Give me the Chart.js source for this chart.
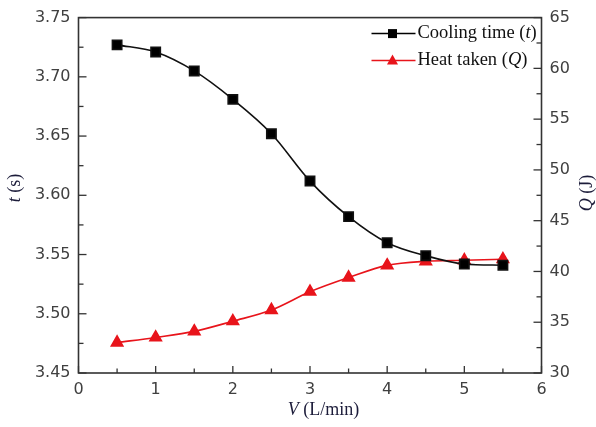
<!DOCTYPE html>
<html>
<head>
<meta charset="utf-8">
<script src="https://cdn.jsdelivr.net/npm/chart.js@4/dist/chart.umd.min.js"></script>
<style>
  html, body { margin: 0; padding: 0; background: #fff; }
  #wrap { position: relative; width: 596px; height: 427px; }
</style>
</head>
<body>
<div id="wrap"><canvas id="c" width="596" height="427"></canvas></div>
<script>
// ---- data ----
const flowRate = [0.5, 1, 1.5, 2, 2.5, 3, 3.5, 4, 4.5, 5, 5.5];           // V (L/min)
const coolingTime = [3.727, 3.721, 3.705, 3.681, 3.652, 3.612, 3.582, 3.560, 3.549, 3.542, 3.541]; // t (s)
const heatTaken = [33.0, 33.5, 34.1, 35.1, 36.2, 38.0, 39.4, 40.6, 41.0, 41.1, 41.2];              // Q (J)
const xTicks = [0, 1, 2, 3, 4, 5, 6];
const tTicks = [3.45, 3.50, 3.55, 3.60, 3.65, 3.70, 3.75];
const qTicks = [30, 35, 40, 45, 50, 55, 60, 65];

const AXIS = '#333333';
const LABEL = '#404040';
const RED = '#e8141b';
const tickFont = { family: "'DejaVu Sans', 'Liberation Sans', sans-serif", size: 16 };
const SERIF = "'Liberation Serif', 'Times New Roman', serif";

function mixedText(ctx, parts, x, y, size, rotate) {
  ctx.save();
  ctx.translate(x, y);
  if (rotate) ctx.rotate(rotate);
  let total = 0;
  parts.forEach(p => { ctx.font = (p.i ? 'italic ' : '') + size + 'px ' + SERIF; total += ctx.measureText(p.t).width; });
  let cx = -total / 2;
  ctx.textBaseline = 'middle';
  ctx.textAlign = 'left';
  parts.forEach(p => {
    ctx.font = (p.i ? 'italic ' : '') + size + 'px ' + SERIF;
    ctx.fillText(p.t, cx, 0);
    cx += ctx.measureText(p.t).width;
  });
  ctx.restore();
}
function leftText(ctx, parts, x, y, size) {
  ctx.save();
  ctx.textBaseline = 'middle';
  ctx.textAlign = 'left';
  let cx = x;
  parts.forEach(p => {
    ctx.font = (p.i ? 'italic ' : '') + size + 'px ' + SERIF;
    ctx.fillText(p.t, cx, y);
    cx += ctx.measureText(p.t).width;
  });
  ctx.restore();
}

const decor = {
  id: 'decor',
  afterDraw(chart) {
    const { ctx, chartArea: a, scales } = chart;
    ctx.save();
    ctx.strokeStyle = AXIS;
    ctx.lineWidth = 1.6;
    ctx.strokeRect(a.left, a.top, a.right - a.left, a.bottom - a.top);
    ctx.lineWidth = 1.3;
    const line = (x1, y1, x2, y2) => { ctx.beginPath(); ctx.moveTo(x1, y1); ctx.lineTo(x2, y2); ctx.stroke(); };
    // x ticks (inward)
    xTicks.forEach((v, i) => {
      const px = scales.x.getPixelForValue(v);
      line(px, a.bottom, px, a.bottom - 7);
      if (i < xTicks.length - 1) {
        const m = scales.x.getPixelForValue((v + xTicks[i + 1]) / 2);
        line(m, a.bottom, m, a.bottom - 4.5);
      }
    });
    tTicks.forEach((v, i) => {
      const py = scales.y.getPixelForValue(v);
      line(a.left, py, a.left + 8, py);
      if (i < tTicks.length - 1) {
        const m = scales.y.getPixelForValue((v + tTicks[i + 1]) / 2);
        line(a.left, m, a.left + 5, m);
      }
    });
    qTicks.forEach((v, i) => {
      const py = scales.y1.getPixelForValue(v);
      line(a.right, py, a.right - 8, py);
      if (i < qTicks.length - 1) {
        const m = scales.y1.getPixelForValue((v + qTicks[i + 1]) / 2);
        line(a.right, m, a.right - 5, m);
      }
    });

    // axis titles
    ctx.fillStyle = '#1c1c3a';
    mixedText(ctx, [{ t: 'V', i: true }, { t: ' (L/min)' }], 323.5, 410, 18, 0);
    mixedText(ctx, [{ t: 't', i: true }, { t: ' (s)' }], 15, 188, 18, -Math.PI / 2);
    mixedText(ctx, [{ t: 'Q', i: true }, { t: ' (J)' }], 587, 193, 18, -Math.PI / 2);

    // legend
    const lx = a.right - 170;
    const rows = [
      { y: a.top + 16, color: '#000', shape: 'square', parts: [{ t: 'Cooling time (' }, { t: 't', i: true }, { t: ')' }] },
      { y: a.top + 43, color: RED, shape: 'tri', parts: [{ t: 'Heat taken (' }, { t: 'Q', i: true }, { t: ')' }] }
    ];
    rows.forEach(r => {
      ctx.strokeStyle = r.color;
      ctx.lineWidth = 1.5;
      line(lx, r.y, lx + 44, r.y);
      ctx.fillStyle = r.color;
      const cx = lx + 21;
      ctx.beginPath();
      if (r.shape === 'square') {
        ctx.rect(cx - 4.5, r.y - 4.5, 9, 9);
      } else {
        ctx.moveTo(cx, r.y - 6);
        ctx.lineTo(cx + 5.5, r.y + 4);
        ctx.lineTo(cx - 5.5, r.y + 4);
        ctx.closePath();
      }
      ctx.fill();
      ctx.fillStyle = '#111';
      leftText(ctx, r.parts, lx + 46, r.y, 18.5);
    });
    ctx.restore();
  }
};

new Chart(document.getElementById('c'), {
  type: 'line',
  data: {
    datasets: [
      {
        label: 'Cooling time (t)',
        data: flowRate.map((v, i) => ({ x: v, y: coolingTime[i] })),
        yAxisID: 'y',
        borderColor: '#111',
        backgroundColor: '#000',
        borderWidth: 1.6,
        pointStyle: 'rect',
        pointRadius: 6.6,
        pointHoverRadius: 6.6,
        cubicInterpolationMode: 'monotone',
        fill: false
      },
      {
        label: 'Heat taken (Q)',
        data: flowRate.map((v, i) => ({ x: v, y: heatTaken[i] })),
        yAxisID: 'y1',
        borderColor: RED,
        backgroundColor: RED,
        borderWidth: 1.6,
        pointStyle: 'triangle',
        pointRadius: 6.6,
        pointHoverRadius: 6.6,
        cubicInterpolationMode: 'monotone',
        fill: false
      }
    ]
  },
  options: {
    responsive: false,
    animation: false,
    devicePixelRatio: 1,
    layout: { padding: { top: 17, left: 0, right: 0, bottom: 0 } },
    plugins: { legend: { display: false }, tooltip: { enabled: false }, title: { display: false } },
    elements: { point: { borderWidth: 0 } },
    scales: {
      x: {
        type: 'linear', min: 0, max: 6,
        afterBuildTicks: s => { s.ticks = xTicks.map(v => ({ value: v })); },
        afterFit: s => { s.height = 54; },
        grid: { display: false, drawTicks: false },
        border: { display: false },
        ticks: { padding: 7, color: LABEL, font: tickFont, maxRotation: 0, callback: v => String(v) }
      },
      y: {
        type: 'linear', position: 'left', min: 3.45, max: 3.75,
        afterBuildTicks: s => { s.ticks = tTicks.map(v => ({ value: v })); },
        afterFit: s => { s.width = 78.5; },
        grid: { display: false, drawTicks: false },
        border: { display: false },
        ticks: { padding: 8, color: LABEL, font: tickFont, callback: v => Number(v).toFixed(2) }
      },
      y1: {
        type: 'linear', position: 'right', min: 30, max: 65,
        afterBuildTicks: s => { s.ticks = qTicks.map(v => ({ value: v })); },
        afterFit: s => { s.width = 54.5; },
        grid: { display: false, drawTicks: false },
        border: { display: false },
        ticks: { padding: 8, color: LABEL, font: tickFont, callback: v => String(v) }
      }
    }
  },
  plugins: [decor]
});
</script>
</body>
</html>
